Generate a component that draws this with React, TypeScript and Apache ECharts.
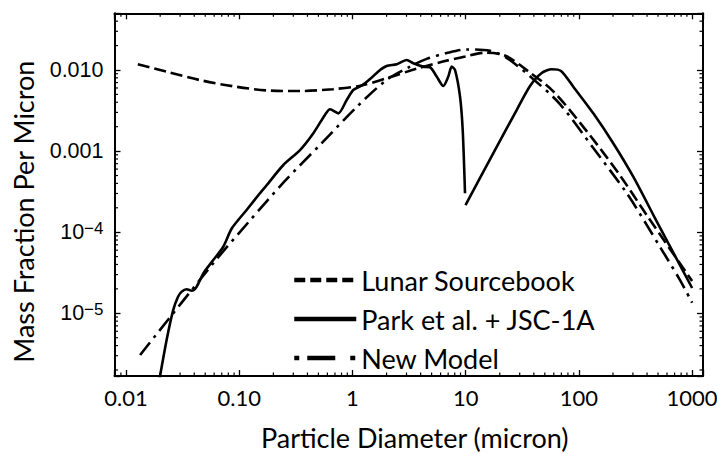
import React, { useEffect, useRef } from 'react';
import * as echarts from 'echarts';

// Axis extents (log axes)
const X_MIN = 0.0079;
const X_MAX = 1248;
const Y_MIN = 1.686e-6;
const Y_MAX = 0.05;

// Tick labels
const xTickValues = [0.01, 0.1, 1, 10, 100, 1000];
const xTickLabels = ['0.01', '0.10', '1', '10', '100', '1000'];
const yTickValues = [1e-5, 1e-4, 0.001, 0.01];
const yTickLabels = ['10{sup|\u22125}', '10{sup|\u22124}', '0.001', '0.010'];
const minorMultipliers = [2, 3, 4, 5, 6, 7, 8, 9];
const minorDecades = [-6, -5, -4, -3, -2, -1, 0, 1, 2, 3];

const seriesNames = ['Lunar Sourcebook', 'Park et al. + JSC-1A', 'New Model'];

// Series values: [diameter (micron), mass fraction per micron]
const lunarSourcebook: [number, number][] = [
  [0.0127, 0.0118],
  [0.023, 0.0095],
  [0.045, 0.0075],
  [0.088, 0.0063],
  [0.176, 0.0056],
  [0.344, 0.0055],
  [0.67, 0.0058],
  [1.17, 0.0064],
  [2.0, 0.0079],
  [3.7, 0.0104],
  [6.3, 0.0127],
  [9.9, 0.0147],
  [14.8, 0.0163],
  [22.2, 0.0151],
  [34.8, 0.0099],
  [59, 0.0055],
  [118, 0.00174],
  [231, 5.0e-4],
  [400, 1.6e-4],
  [1000, 2.5e-5],
];

const parkFine: [number, number][] = [
  [0.0195, 1.42e-6],
  [0.0199, 1.65e-6],
  [0.0228, 4.69e-6],
  [0.0261, 1.1e-5],
  [0.0287, 1.59e-5],
  [0.031, 1.85e-5],
  [0.0343, 1.98e-5],
  [0.038, 1.9e-5],
  [0.042, 2.13e-5],
  [0.0481, 3.11e-5],
  [0.0589, 4.54e-5],
  [0.0722, 6.62e-5],
  [0.0857, 1.11e-4],
  [0.116, 1.88e-4],
  [0.152, 3.02e-4],
  [0.175, 3.82e-4],
  [0.245, 6.74e-4],
  [0.344, 1.03e-3],
  [0.451, 1.66e-3],
  [0.571, 2.79e-3],
  [0.633, 3.28e-3],
  [0.749, 2.92e-3],
  [0.889, 4.27e-3],
  [1.016, 5.67e-3],
  [1.21, 6.44e-3],
  [1.43, 7.74e-3],
  [1.71, 9.72e-3],
  [2.0, 0.0112],
  [2.46, 0.0118],
  [3.01, 0.0133],
  [3.44, 0.0121],
  [4.22, 0.011],
  [4.84, 0.0108],
  [5.54, 0.0083],
  [6.34, 0.00635],
  [7.02, 0.0083],
  [7.52, 0.011],
  [8.05, 0.01],
  [8.91, 0.0047],
  [9.41, 0.00182],
  [9.86, 3.02e-4],
];

const parkCoarse: [number, number][] = [
  [9.96, 2.16e-4],
  [17.5, 9.39e-4],
  [28.2, 3.21e-3],
  [37, 6.35e-3],
  [46.9, 9.18e-3],
  [57.5, 0.0102],
  [69.5, 0.0097],
  [89.2, 6.22e-3],
  [134, 2.92e-3],
  [201, 1.25e-3],
  [302, 4.83e-4],
  [480, 1.41e-4],
  [1000, 2.05e-5],
];

const newModel: [number, number][] = [
  [0.0133, 3.06e-6],
  [0.0589, 4.14e-5],
  [0.12, 1.32e-4],
  [0.253, 4.28e-4],
  [0.516, 1.19e-3],
  [1.09, 3.5e-3],
  [2.0, 7.53e-3],
  [3.22, 0.011],
  [4.52, 0.0137],
  [6.8, 0.0162],
  [10.1, 0.0179],
  [16.4, 0.0172],
  [23, 0.0141],
  [39.6, 0.0077],
  [68, 0.0038],
  [134, 1.09e-3],
  [264, 3.04e-4],
  [397, 1.23e-4],
  [520, 6.6e-5],
  [782, 2.57e-5],
  [1000, 1.35e-5],
];

function findLabel(v: number, values: number[], labels: string[]): string {
  const lv = Math.log10(v);
  for (let i = 0; i < values.length; i++) {
    if (Math.abs(lv - Math.log10(values[i])) < 1e-4) return labels[i];
  }
  return '';
}

function minorTickData(): number[][] {
  const out: number[][] = [];
  for (const d of minorDecades) {
    for (const m of minorMultipliers) {
      const v = m * Math.pow(10, d);
      if (v > X_MIN * 1.001 && v < X_MAX * 0.999) out.push([v, 1e-3, 0]);
      if (v > Y_MIN * 1.001 && v < Y_MAX * 0.999) out.push([1, v, 1]);
    }
  }
  return out;
}

const MAJOR_LEN = 6;
const MINOR_LEN = 3.5;
const FRAME_W = 2;
const TITLE_FONT = 27;

function buildOption(): any {
  const baseAxisX = {
    type: 'log',
    logBase: 10,
    min: X_MIN,
    max: X_MAX,
    axisLine: { show: true, onZero: false, lineStyle: { color: '#000', width: FRAME_W } },
    axisTick: { show: true, inside: true, length: MAJOR_LEN, lineStyle: { color: '#000', width: 1.3 } },
    splitLine: { show: false },
    minorTick: { show: false },
    minorSplitLine: { show: false },
  };
  const baseAxisY = {
    type: 'log',
    logBase: 10,
    min: Y_MIN,
    max: Y_MAX,
    axisLine: { show: true, onZero: false, lineStyle: { color: '#000', width: FRAME_W } },
    axisTick: { show: true, inside: true, length: MAJOR_LEN, lineStyle: { color: '#000', width: 1.3 } },
    splitLine: { show: false },
    minorTick: { show: false },
    minorSplitLine: { show: false },
  };
  const lineCommon = {
    type: 'line',
    symbol: 'none',
    showSymbol: false,
    smooth: 0.3,
    clip: true,
    silent: true,
    xAxisIndex: 0,
    yAxisIndex: 0,
    itemStyle: { color: '#000' },
  };
  return {
    animation: false,
    textStyle: { fontFamily: 'Lato' },
    grid: { left: 114.5, right: 14, top: 13.3, bottom: 78, containLabel: false, outerBoundsMode: 'none' },
    xAxis: [
      {
        ...baseAxisX,
        position: 'bottom',
        axisLabel: {
          show: true,
          margin: 10,
          color: '#000',
          fontFamily: 'Lato',
          fontSize: 22,
          lineHeight: 23,
          formatter: (v: number) => findLabel(v, xTickValues, xTickLabels),
        },
        name: 'Particle Diameter (micron)',
        nameLocation: 'middle',
        nameGap: 48,
        nameTextStyle: { fontFamily: 'Lato', fontSize: TITLE_FONT, lineHeight: 27, color: '#000', padding: [0, 0, 0, 12] },
      },
      { ...baseAxisX, position: 'top', axisLabel: { show: false } },
    ],
    yAxis: [
      {
        ...baseAxisY,
        position: 'left',
        axisLabel: {
          show: true,
          margin: 11,
          color: '#000',
          fontFamily: 'Liberation Sans',
          fontSize: 21.5,
          lineHeight: 24,
          formatter: (v: number) => findLabel(v, yTickValues, yTickLabels),
          rich: {
            sup: { fontFamily: 'Liberation Sans', fontSize: 17, lineHeight: 17, verticalAlign: 'top', color: '#000' },
          },
        },
        name: 'Mass Fraction Per Micron',
        nameLocation: 'middle',
        nameGap: 77.5,
        nameTextStyle: { fontFamily: 'Lato', fontSize: TITLE_FONT, lineHeight: 27, color: '#000', padding: [0, 34, 0, 0] },
      },
      { ...baseAxisY, position: 'right', axisLabel: { show: false } },
    ],
    legend: {
      show: true,
      orient: 'vertical',
      left: 292,
      top: 266.5,
      padding: 0,
      itemWidth: 62,
      itemHeight: 27,
      itemGap: 12,
      selectedMode: false,
      itemStyle: { opacity: 0 },
      textStyle: { fontFamily: 'Lato', fontSize: TITLE_FONT, lineHeight: 27, color: '#000' },
      data: [
        { name: seriesNames[0], itemStyle: { opacity: 0 }, lineStyle: { color: '#000', width: 4.5, type: [11, 5] } },
        { name: seriesNames[1], itemStyle: { opacity: 0 }, lineStyle: { color: '#000', width: 4.5, type: 'solid' } },
        { name: seriesNames[2], itemStyle: { opacity: 0 }, lineStyle: { color: '#000', width: 4.5, type: [5, 8, 28, 15, 5, 100] } },
      ],
    },
    series: [
      {
        ...lineCommon,
        name: seriesNames[0],
        data: lunarSourcebook,
        lineStyle: { color: '#000', width: 2.6, type: [12, 5] },
      },
      {
        ...lineCommon,
        name: seriesNames[1],
        data: parkFine,
        smooth: 0.25,
        lineStyle: { color: '#000', width: 2.6, type: 'solid' },
      },
      {
        ...lineCommon,
        name: seriesNames[1],
        data: parkCoarse,
        smooth: 0.25,
        lineStyle: { color: '#000', width: 2.6, type: 'solid' },
      },
      {
        ...lineCommon,
        name: seriesNames[2],
        data: newModel,
        lineStyle: { color: '#000', width: 2.6, type: [16, 6, 3, 6] },
      },
      {
        type: 'custom',
        name: 'minorTicks',
        silent: true,
        xAxisIndex: 0,
        yAxisIndex: 0,
        encode: { x: 0, y: 1 },
        clip: false,
        data: minorTickData(),
        renderItem: (params: any, api: any) => {
          const cs = params.coordSys;
          const kind = api.value(2);
          const style = { stroke: '#000', lineWidth: 1.2 };
          if (kind === 0) {
            const px = api.coord([api.value(0), 1e-3])[0];
            return {
              type: 'group',
              children: [
                { type: 'line', shape: { x1: px, y1: cs.y + cs.height, x2: px, y2: cs.y + cs.height - MINOR_LEN }, style },
                { type: 'line', shape: { x1: px, y1: cs.y, x2: px, y2: cs.y + MINOR_LEN }, style },
              ],
            };
          }
          const py = api.coord([1, api.value(1)])[1];
          return {
            type: 'group',
            children: [
              { type: 'line', shape: { x1: cs.x, y1: py, x2: cs.x + MINOR_LEN, y2: py }, style },
              { type: 'line', shape: { x1: cs.x + cs.width, y1: py, x2: cs.x + cs.width - MINOR_LEN, y2: py }, style },
            ],
          };
        },
      },
    ],
  };
}

export default function App() {
  const ref = useRef<HTMLDivElement>(null);
  useEffect(() => {
    if (!ref.current) return;
    const chart = echarts.init(ref.current, null, { renderer: 'svg' });
    chart.setOption(buildOption());
    return () => {
      chart.dispose();
    };
  }, []);
  return (
    <div
      ref={ref}
      style={{ position: 'absolute', left: 0, top: 0, width: 717, height: 454, background: '#fff' }}
    />
  );
}
